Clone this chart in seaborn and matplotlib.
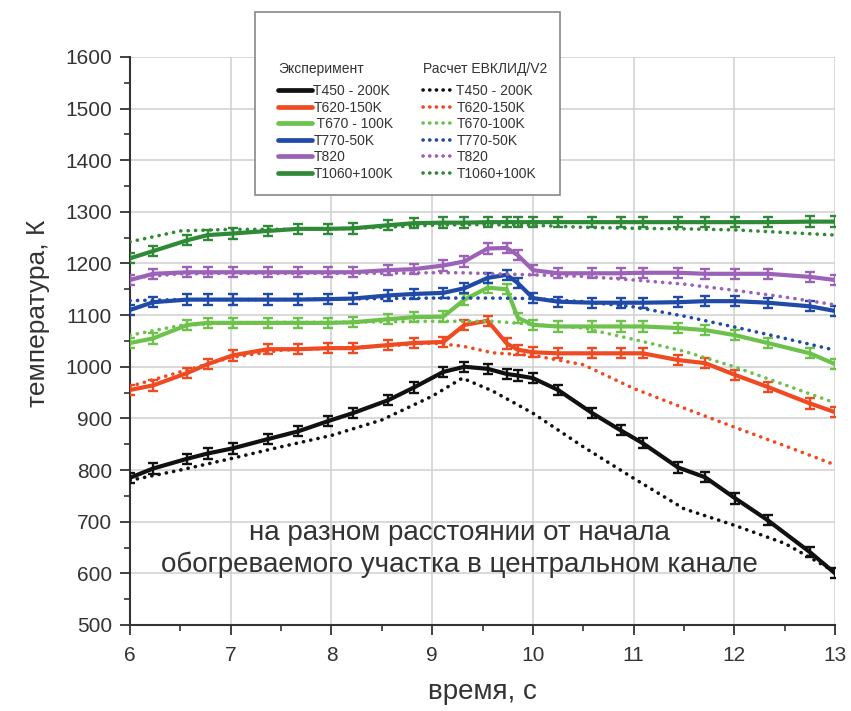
import matplotlib
matplotlib.use("Agg")
import matplotlib.pyplot as plt
import numpy as np
import pandas as pd
import seaborn as sns
from matplotlib.lines import Line2D
from matplotlib.patches import Rectangle
from matplotlib.ticker import MultipleLocator

# ---------------- data ----------------
exp_labels = ["T450 - 200K", "T620-150K", " T670 - 100K", "T770-50K", "T820", "T1060+100K"]
calc_labels = ["T450 - 200K", "T620-150K", "T670-100K", "T770-50K", "T820", "T1060+100K"]
series_keys = ["T450", "T620", "T670", "T770", "T820", "T1060"]
colors = ["#111111", "#f04a22", "#6cc24a", "#1f4aa8", "#9b62b8", "#2f8a37"]

t_exp = [6.0, 6.23, 6.57, 6.77, 7.02, 7.37, 7.67, 7.97, 8.21, 8.56, 8.82, 9.11, 9.32,
         9.55, 9.74, 9.85, 10.0, 10.25, 10.59, 10.87, 11.09, 11.44, 11.71, 12.01,
         12.33, 12.75, 13.0]
exp_T450 = [785, 803, 822, 832, 842, 860, 875, 895, 910, 935, 960, 990, 1000, 996, 986,
            983, 978, 955, 910, 877, 852, 805, 786, 745, 703, 641, 600]
exp_T620 = [955, 964, 988, 1005, 1022, 1034, 1034, 1036, 1036, 1042, 1046, 1048, 1081,
            1089, 1045, 1033, 1028, 1026, 1026, 1026, 1026, 1013, 1007, 984, 961, 929, 912]
exp_T670 = [1046, 1055, 1081, 1085, 1085, 1085, 1085, 1085, 1086, 1092, 1096, 1097, 1130,
            1153, 1150, 1095, 1081, 1078, 1078, 1078, 1078, 1075, 1071, 1061, 1046, 1026, 1005]
exp_T770 = [1110, 1125, 1130, 1130, 1130, 1130, 1130, 1131, 1132, 1138, 1141, 1143, 1152,
            1172, 1178, 1162, 1133, 1126, 1124, 1124, 1124, 1125, 1127, 1127, 1124, 1117, 1108]
exp_T820 = [1168, 1180, 1183, 1183, 1183, 1183, 1183, 1183, 1183, 1187, 1189, 1196, 1204,
            1229, 1230, 1216, 1187, 1181, 1181, 1181, 1182, 1182, 1180, 1180, 1180, 1174, 1168]
exp_T1060 = [1210, 1224, 1245, 1255, 1258, 1263, 1267, 1267, 1268, 1274, 1278, 1279, 1279,
             1280, 1280, 1280, 1280, 1280, 1280, 1280, 1280, 1280, 1280, 1280, 1280, 1281, 1281]
exp_err = 10

t_calc = [6.0, 6.5, 7.0, 7.5, 8.0, 8.5, 9.0, 9.3, 9.6, 10.0, 10.5, 11.0, 11.5, 12.0, 12.5, 13.0]
calc_T450 = [780, 800, 822, 845, 867, 897, 943, 978, 953, 910, 845, 784, 725, 693, 658, 603]
calc_T620 = [962, 990, 1018, 1032, 1036, 1040, 1046, 1040, 1027, 1022, 1004, 958, 920, 883, 847, 810]
calc_T670 = [1061, 1080, 1085, 1086, 1086, 1087, 1088, 1088, 1088, 1082, 1075, 1053, 1030, 1000, 965, 930]
calc_T770 = [1128, 1130, 1130, 1130, 1131, 1132, 1133, 1133, 1133, 1132, 1126, 1116, 1098, 1077, 1055, 1032]
calc_T820 = [1172, 1180, 1181, 1181, 1181, 1181, 1182, 1182, 1180, 1178, 1175, 1168, 1160, 1148, 1135, 1120]
calc_T1060 = [1242, 1263, 1266, 1266, 1267, 1270, 1274, 1275, 1275, 1274, 1270, 1268, 1267, 1265, 1260, 1255]

exp_values = [exp_T450, exp_T620, exp_T670, exp_T770, exp_T820, exp_T1060]
calc_values = [calc_T450, calc_T620, calc_T670, calc_T770, calc_T820, calc_T1060]

df_exp = pd.concat([pd.DataFrame({"t": t_exp, "T": v, "series": k})
                    for k, v in zip(series_keys, exp_values)], ignore_index=True)
df_calc = pd.concat([pd.DataFrame({"t": t_calc, "T": v, "series": k})
                     for k, v in zip(series_keys, calc_values)], ignore_index=True)

# ---------------- style ----------------
sns.set_theme(style="white")
plt.rcParams["font.family"] = ["Liberation Sans", "DejaVu Sans"]
text_col = "#333333"

fig = plt.figure(figsize=(8.51, 7.11), dpi=100)
ax = fig.add_axes([0.1528, 0.121, 0.8285, 0.799])

palette = dict(zip(series_keys, colors))

sns.lineplot(data=df_exp, x="t", y="T", hue="series", hue_order=series_keys,
             palette=palette, linewidth=3.0, legend=False, ax=ax, sort=False,
             estimator=None, zorder=3)
for k, v, c in zip(series_keys, exp_values, colors):
    ax.errorbar(t_exp, v, yerr=exp_err, fmt="none", ecolor=c, elinewidth=1.7,
                capsize=3.5, capthick=1.7, zorder=3)

sns.lineplot(data=df_calc, x="t", y="T", hue="series", hue_order=series_keys,
             palette=palette, linewidth=2.6, legend=False, ax=ax, sort=False,
             estimator=None, linestyle=(0, (0.05, 2.0)), dash_capstyle="round", zorder=4)

ax.set_xlim(6, 13)
ax.set_ylim(500, 1600)
ax.xaxis.set_major_locator(MultipleLocator(1))
ax.xaxis.set_minor_locator(MultipleLocator(0.5))
ax.yaxis.set_major_locator(MultipleLocator(100))
ax.yaxis.set_minor_locator(MultipleLocator(50))
ax.grid(True, which="major", color="#cfcfcf", linewidth=1.1)
ax.set_axisbelow(True)
for s in ["top", "right"]:
    ax.spines[s].set_visible(False)
for s in ["left", "bottom"]:
    ax.spines[s].set_color("#333333")
    ax.spines[s].set_linewidth(1.5)
ax.tick_params(which="major", direction="out", length=7, width=1.3, color="#333333",
               labelsize=15, labelcolor=text_col, pad=8, left=True, bottom=True)
ax.tick_params(which="minor", direction="out", length=4, width=1.2, color="#333333",
               left=True, bottom=True)
ax.tick_params(axis="y", which="major", pad=6)

ax.set_xlabel("время, с", fontsize=20, color=text_col, labelpad=10)
ax.set_ylabel("температура, К", fontsize=19, color=text_col)
ax.yaxis.set_label_coords(-0.113, 0.549)

ax.text(9.27, 647, "на разном расстоянии от начала\nобогреваемого участка в центральном канале",
        ha="center", va="center", fontsize=20, color=text_col, linespacing=1.3, zorder=5)

# ---------------- legend ----------------
frame = Rectangle((0.2996, 0.726), 0.358, 0.257, transform=fig.transFigure,
                  facecolor="white", edgecolor="#888888", linewidth=1.2, zorder=10)
fig.patches.append(frame)

h_exp = [Line2D([], [], color=c, lw=3.4) for c in colors]
h_calc = [Line2D([], [], color=c, lw=2.6, linestyle=(0, (0.05, 1.8)),
                 dash_capstyle="round") for c in colors]
common = dict(frameon=False, loc="upper left", fontsize=10, title_fontsize=10,
              alignment="left", borderpad=0, borderaxespad=0, handletextpad=0.1,
              labelspacing=0.18, labelcolor=text_col)
leg1 = fig.legend(h_exp, exp_labels, title="Эксперимент",
                  bbox_to_anchor=(0.3267, 0.913), handlelength=2.45, **common)
leg2 = fig.legend(h_calc, calc_labels, title="Расчет ЕВКЛИД/V2",
                  bbox_to_anchor=(0.497, 0.913), handlelength=2.3, **common)
for lg in (leg1, leg2):
    lg.set_zorder(11)
    lg.get_title().set_color(text_col)
    lg._legend_box.sep = 6

fig.savefig("out.png", dpi=100)
